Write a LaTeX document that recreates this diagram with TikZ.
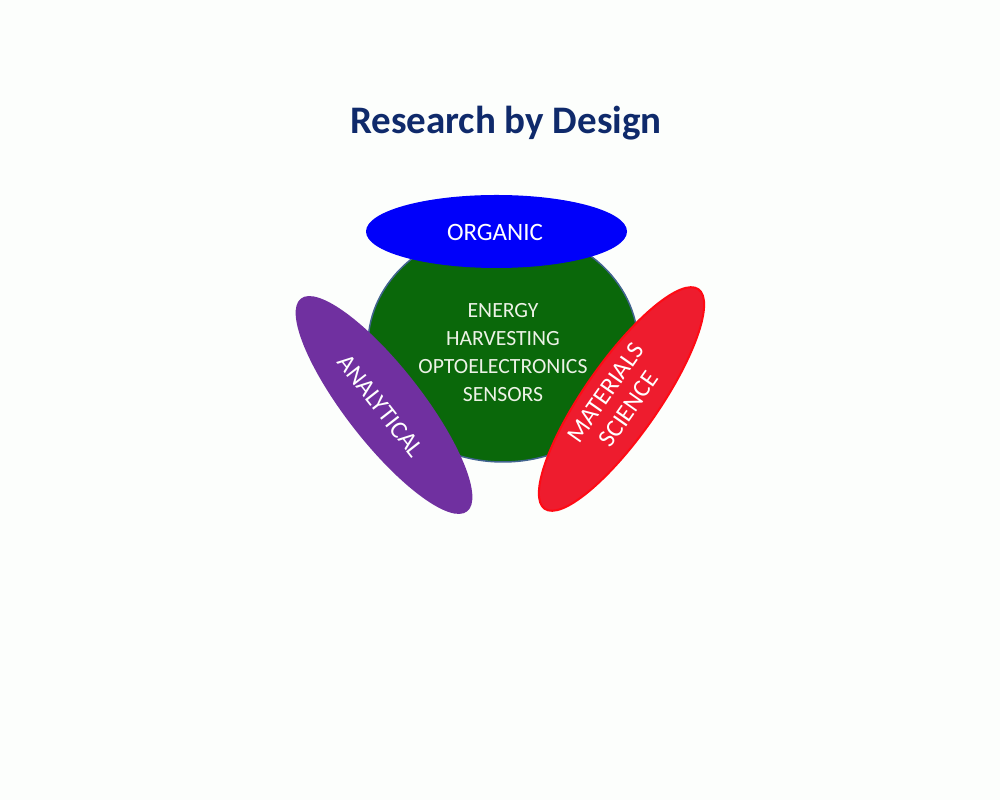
\documentclass[tikz,border=0pt]{standalone}
\usepackage{fontspec}
\setmainfont{Carlito}
\definecolor{titleblue}{HTML}{0F2A6B}
\definecolor{pagebg}{HTML}{FCFEFC}
\definecolor{coregreen}{HTML}{0A680A}
\definecolor{coreline}{HTML}{41648F}
\definecolor{orgblue}{HTML}{0000FA}
\definecolor{anapurple}{HTML}{7030A0}
\definecolor{matred}{HTML}{EE1C2E}
\definecolor{matline}{HTML}{FF0A14}
\definecolor{coretext}{HTML}{ECF2E6}
\begin{document}
\begin{tikzpicture}[x=1pt, y=1pt, line join=round, line cap=round,
    label/.style={text=white, font=\fontsize{25}{28.3}\selectfont, align=center, inner sep=0pt}]
    \fill[pagebg] (0,0) rectangle (1000,800);
    \useasboundingbox (0,0) rectangle (1000,800);
    \node[font=\fontsize{39}{44}\bfseries, text=titleblue] (title) at (506,677) {Research by Design};
    % core and the three fields
    \draw[fill=coregreen, draw=coreline, line width=1.5pt] (503,455) ellipse (135 and 117);
    \fill[orgblue] (496.5,568.5) ellipse (130.5 and 36.5);
    \fill[anapurple, rotate around={-52:(384,395)}] (384,395) ellipse (135 and 38);
    \draw[fill=matred, draw=matline, line width=2pt, rotate around={55:(621.5,401)}] (621.5,401) ellipse (134 and 37);
    \node[label, text=coretext, font=\fontsize{21.7}{28.3}\selectfont] (core) at (503,447.5) {ENERGY\\HARVESTING\\OPTOELECTRONICS\\SENSORS};
    \node[label] (organic) at (495,568) {ORGANIC};
    \node[label, rotate=-52] (analytical) at (381,394) {ANALYTICAL};
    \node[label, rotate=55] (materials) at (617,399) {MATERIALS\\SCIENCE};
\end{tikzpicture}
\end{document}
